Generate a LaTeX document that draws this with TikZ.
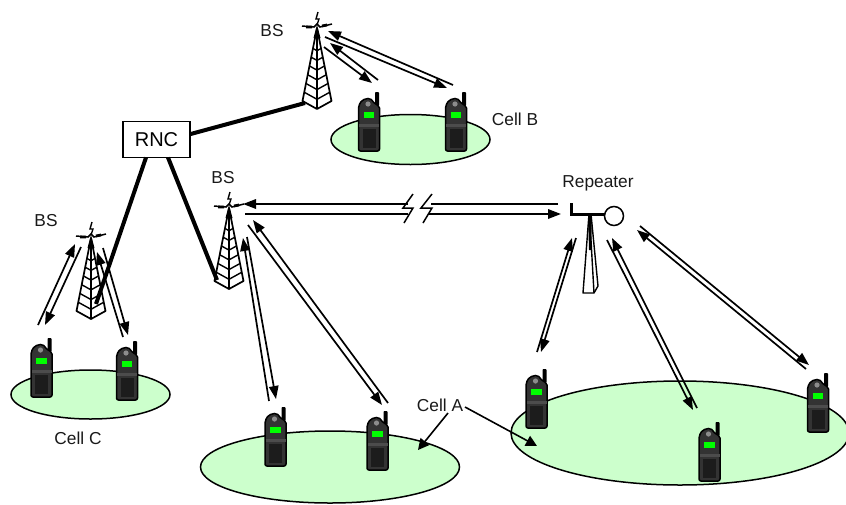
\documentclass[tikz,border=0pt]{standalone}
\usepackage{fontspec}
\setmainfont{Liberation Sans}
\usetikzlibrary{arrows.meta}
\definecolor{cellgreen}{HTML}{CCFFCC}
\definecolor{phonebody}{HTML}{333333}
\definecolor{phonedark}{HTML}{1C1C1C}
\tikzset{
  cell/.style={draw=black,line width=1.5pt,fill=cellgreen},
  link/.style={draw=black,line width=1.7pt,-{Triangle[length=13pt,width=9.5pt]}},
  plainlink/.style={draw=black,line width=1.7pt},
  backhaul/.style={draw=black,line width=4pt},
  pointer/.style={draw=black,line width=1.6pt,-{Triangle[length=11pt,width=11pt]}},
  breakmark/.style={draw=black,line width=1.5pt},
  lbl/.style={inner sep=0pt,font=\fontsize{17.3}{19}\selectfont,text=black!90},
  rncbox/.style={draw=black,line width=1.4pt,fill=white,minimum width=67pt,minimum height=36pt,inner sep=0pt,font=\fontsize{20}{22}\selectfont},
  phone/.pic={
    \fill[black,rounded corners=.8pt] (6,-60) rectangle (10,-46);
    \filldraw[fill=phonebody,draw=black,line width=1.5pt,rounded corners=2pt]
      (-10.5,-1) -- (-10.5,-46) -- (-7,-52) -- (1,-54) -- (6,-48) -- (10.5,-46) -- (10.5,-1) -- cycle;
    \fill[black!80] (-1,-48) circle (4.5pt);
    \fill[black!45] (-1,-48) circle (2.6pt);
    \fill[green] (-5.5,-40.5) rectangle (5,-34.5);
    \fill[black!70] (-10,-28) rectangle (10,-25);
    \fill[phonedark] (-6.5,-23) rectangle (6.5,-4);
  },
  tower/.pic={
    \draw[line width=1.7pt,line join=round] (0,0) -- (-14.5,73) -- (0,81) -- (14.5,73) -- cycle;
    \draw[line width=1.4pt] (0,0) -- (0,81);
    \foreach \t in {.28,.4,.52,.64,.76,.88}{
      \draw[line width=1.4pt] (-14.5*\t,73*\t) -- (0,81*\t) -- (14.5*\t,73*\t);
    }
    \fill[black] (-3.5,10) -- (0,-3) -- (3.5,10) -- cycle;
    \draw[line width=1.5pt] (-15,-2) -- (-3,-1) -- (0,-4) -- (3,-1) -- (15,-4);
    \draw[line width=2.8pt] (-11,-1) -- (-5,-1) (5,-2) -- (10,-3);
    \draw[line width=1.4pt] (1,-16) -- (-1,-9) -- (2,-9) -- (0,-3);
  },
}
\begin{document}
\begin{tikzpicture}[x=1pt,y=-1pt]
\useasboundingbox (0,0) rectangle (846,504);
% cells
\begin{scope}
\clip (0,0) rectangle (846,504);
\path[cell] (680,433) ellipse [x radius=169,y radius=52];
\path[cell] (330,467) ellipse [x radius=129.5,y radius=36];
\end{scope}
\path[cell] (410.5,139.5) ellipse [x radius=79.5,y radius=25];
\path[cell] (90.5,394.5) ellipse [x radius=79.5,y radius=24.5];
% phones
\foreach \px/\py in {369/152,456/152,41.5/398,127/401,275.5/467,377.5/471,536.5/429,709.5/482,818/433}{
  \pic at (\px,\py) {phone};
}
% towers
\pic at (317,28) {tower};
\pic at (229,208) {tower};
\pic at (91,238) {tower};
% RNC and named ends
\node[rncbox] (rnc) at (156.5,139.5) {RNC};
\coordinate (bsB) at (305,103);
\coordinate (bsA) at (217,280);
\coordinate (bsC) at (96,304);
\draw[backhaul] (rnc.east |- 0,134) -- (bsB);
\draw[backhaul] (146,157.5) -- (bsC);
\draw[backhaul] (168,157.5) -- (bsA);
% radio links, cell B
\coordinate (b1) at (324,47); \coordinate (b2) at (372,83);
\coordinate (b3) at (378,80); \coordinate (b4) at (330,43);
\coordinate (b5) at (325,37); \coordinate (b6) at (447,88);
\coordinate (b7) at (453,85); \coordinate (b8) at (328,31);
\draw[link] (b1) -- (b2); \draw[link] (b3) -- (b4);
\draw[link] (b5) -- (b6); \draw[link] (b7) -- (b8);
% cell C
\coordinate (c1) at (38,325); \coordinate (c2) at (75,244);
\coordinate (c3) at (81,247); \coordinate (c4) at (45,325);
\coordinate (c5) at (123,337); \coordinate (c6) at (97,252);
\coordinate (c7) at (103,248); \coordinate (c8) at (128,335);
\draw[link] (c1) -- (c2); \draw[link] (c3) -- (c4);
\draw[link] (c5) -- (c6); \draw[link] (c7) -- (c8);
% cell A via BS
\coordinate (a1) at (269,401); \coordinate (a2) at (243,238);
\coordinate (a3) at (247,237); \coordinate (a4) at (276,399);
\coordinate (a5) at (388,403); \coordinate (a6) at (253,220);
\coordinate (a7) at (248,225); \coordinate (a8) at (382,405);
\draw[link] (a1) -- (a2); \draw[link] (a3) -- (a4);
\draw[link] (a5) -- (a6); \draw[link] (a7) -- (a8);
% cell A via repeater
\coordinate (r1) at (537,352); \coordinate (r2) at (572,238);
\coordinate (r3) at (576,238); \coordinate (r4) at (541,352);
\coordinate (r5) at (697,408); \coordinate (r6) at (612,238);
\coordinate (r7) at (607,240); \coordinate (r8) at (693,410);
\coordinate (r9) at (806,369); \coordinate (r10) at (637,230);
\coordinate (r11) at (640,226); \coordinate (r12) at (809,365);
\draw[link] (r1) -- (r2); \draw[link] (r3) -- (r4);
\draw[link] (r5) -- (r6); \draw[link] (r7) -- (r8);
\draw[link] (r9) -- (r10); \draw[link] (r11) -- (r12);
% broken link BS - repeater
\coordinate (h1) at (558,204); \coordinate (h2) at (431,204);
\coordinate (h3) at (408,204); \coordinate (h4) at (243,204);
\coordinate (h5) at (245,214); \coordinate (h6) at (408,214);
\coordinate (h7) at (429,214); \coordinate (h8) at (561,214);
\draw[plainlink] (h1) -- (h2);
\draw[link] (h3) -- (h4);
\draw[plainlink] (h5) -- (h6);
\draw[link] (h7) -- (h8);
\draw[breakmark] (413,194) -- (403,208) -- (413,208) -- (404,223);
\draw[breakmark] (432,194) -- (421,208) -- (432,208) -- (423,223);
% repeater
\draw[line width=1.4pt,fill=white,line join=round] (589,214) -- (583,293) -- (594,293) -- (598,286) -- (591,214) -- cycle;
\draw[line width=1.4pt] (589.5,214) -- (594,293);
\fill[black] (588,214) -- (592,214) -- (591,250) -- (589,250) -- cycle;
\draw[line width=3pt] (571,203) -- (571,214) -- (606,214);
\node[draw=black,line width=1.5pt,fill=white,circle,minimum size=19pt,inner sep=0pt] (rep) at (614,216) {};
% labels
\node[lbl] (lBSb) at (272,31) {BS};
\node[lbl] (lBSa) at (223,178) {BS};
\node[lbl] (lBSc) at (46,221) {BS};
\node[lbl] (lCB) at (515,119) {Cell B};
\node[lbl] (lCC) at (78,438) {Cell C};
\node[lbl] (lRep) at (598,183) {Repeater};
\node[lbl] (lCA) at (440,405) {Cell A};
\coordinate (ca1) at (418,450);
\coordinate (ca2) at (537,446);
\draw[pointer] (448,413) -- (ca1);
\draw[pointer] (465,407) -- (ca2);
\end{tikzpicture}
\end{document}
